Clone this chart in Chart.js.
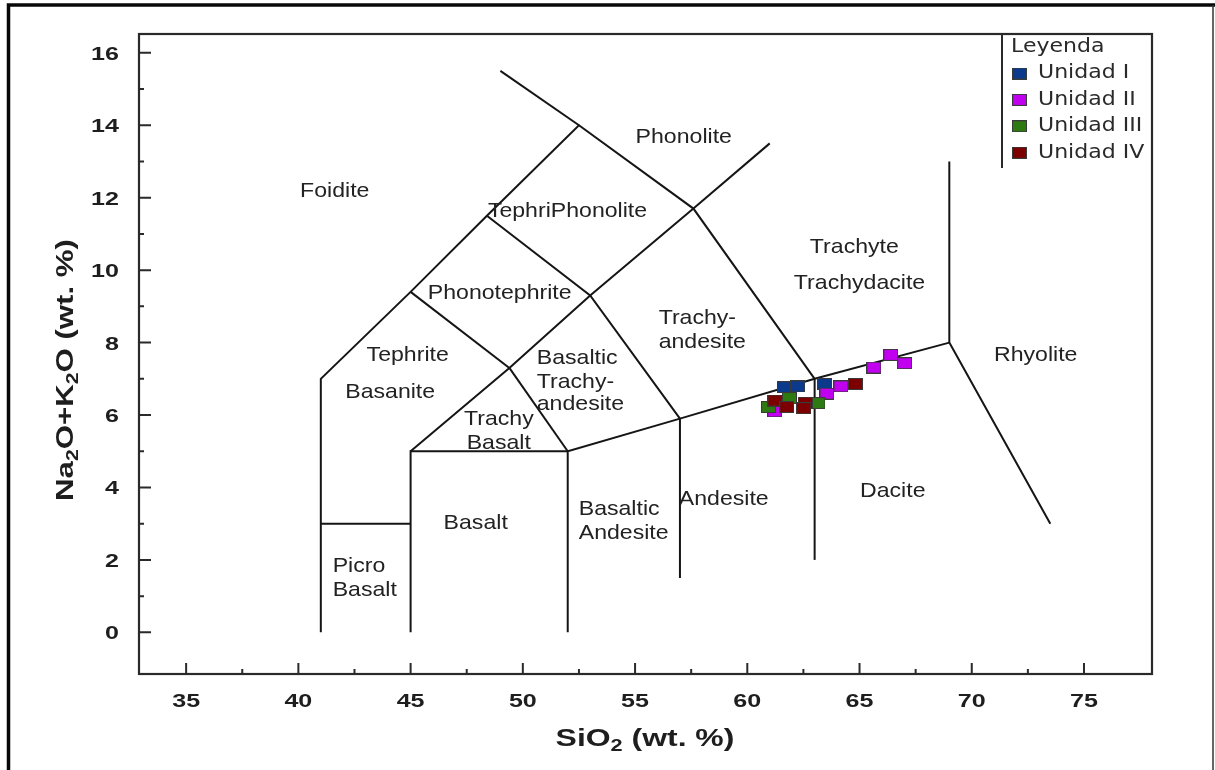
<!DOCTYPE html>
<html>
<head>
<meta charset="utf-8">
<script src="https://cdn.jsdelivr.net/npm/chart.js@4.4.1/dist/chart.umd.min.js"></script>
<style>
  html, body { margin: 0; padding: 0; background: #fff; }
  #wrap { width: 1215px; height: 770px; }
</style>
</head>
<body>
<div id="wrap"><canvas id="chart" width="1215" height="770"></canvas></div>
<script>
// axes
const xTicks = [35, 40, 45, 50, 55, 60, 65, 70, 75];
const xMinorTicks = [37.5, 42.5, 47.5, 52.5, 57.5, 62.5, 67.5, 72.5];
const yTicks = [0, 2, 4, 6, 8, 10, 12, 14, 16];
const yMinorTicks = [1, 3, 5, 7, 9, 11, 13, 15];

// TAS field boundaries, [SiO2, Na2O+K2O]
const fieldLines = [
  [[41, 0], [41, 7], [45, 9.4], [48.4, 11.5], [52.5, 14], [57.6, 11.7], [63, 7]],
  [[41, 3], [45, 3]],
  [[45, 0], [45, 5], [52, 5]],
  [[52, 0], [52, 5], [57, 5.9], [63, 7], [69, 8]],
  [[57, 1.5], [57, 5.9]],
  [[63, 2], [63, 7]],
  [[69, 13], [69, 8], [73.5, 3]],
  [[52.5, 14], [49, 15.5]],
  [[57.6, 11.7], [61, 13.5]],
  [[45, 5], [49.4, 7.3], [53, 9.3], [57.6, 11.7]],
  [[49.4, 7.3], [52, 5]],
  [[45, 9.4], [49.4, 7.3]],
  [[48.4, 11.5], [53, 9.3], [57, 5.9]],
];

// field names: text, SiO2, alkalis, alignment
const fieldNames = [
  ['Foidite', 41.62, 12.19, 'center'],
  ['Phonolite', 57.17, 13.68, 'center'],
  ['TephriPhonolite', 51.99, 11.64, 'center'],
  ['Phonotephrite', 48.97, 9.37, 'center'],
  ['Tephrite', 44.87, 7.66, 'center'],
  ['Basanite', 44.09, 6.64, 'center'],
  ['Trachy', 48.93, 5.88, 'center'],
  ['Basalt', 48.93, 5.22, 'center'],
  ['Basaltic', 50.62, 7.58, 'left'],
  ['Trachy-', 50.62, 6.91, 'left'],
  ['andesite', 50.62, 6.31, 'left'],
  ['Trachy-', 56.05, 8.68, 'left'],
  ['andesite', 56.05, 8.02, 'left'],
  ['Trachyte', 64.77, 10.64, 'center'],
  ['Trachydacite', 65.0, 9.65, 'center'],
  ['Rhyolite', 72.85, 7.66, 'center'],
  ['Dacite', 66.48, 3.9, 'center'],
  ['Andesite', 58.95, 3.68, 'center'],
  ['Basaltic', 52.49, 3.4, 'left'],
  ['Andesite', 52.49, 2.74, 'left'],
  ['Basalt', 47.9, 3.02, 'center'],
  ['Picro', 41.53, 1.83, 'left'],
  ['Basalt', 41.53, 1.17, 'left'],
];

// samples
const unidad1X = [61.65, 62.25, 63.44];
const unidad1Y = [6.77, 6.79, 6.86];
const unidad2X = [61.22, 63.55, 64.17, 65.64, 66.39, 67.01];
const unidad2Y = [6.10, 6.59, 6.79, 7.31, 7.66, 7.43];
const unidad3X = [61.88, 60.95, 63.15];
const unidad3Y = [6.47, 6.22, 6.33];
const unidad4X = [62.58, 61.23, 61.76, 62.52, 64.81];
const unidad4Y = [6.34, 6.40, 6.22, 6.19, 6.86];

const seriesNames = ['Unidad I', 'Unidad II', 'Unidad III', 'Unidad IV'];
const seriesColors = ['#0b3a8c', '#c000ee', '#2e7a12', '#7d0000'];

function marker(color) {
  const c = document.createElement('canvas');
  c.width = 15;
  c.height = 12;
  const g = c.getContext('2d');
  g.fillStyle = color;
  g.fillRect(0, 0, 15, 12);
  g.strokeStyle = '#3a3a3a';
  g.lineWidth = 1;
  g.strokeRect(0.5, 0.5, 14, 11);
  return c;
}
const markers = seriesColors.map(marker);

function zipXY(xs, ys) {
  return xs.map((x, i) => ({ x: x, y: ys[i] }));
}

const lineSets = fieldLines.map((pts) => ({
  data: pts.map((p) => ({ x: p[0], y: p[1] })),
  showLine: true,
  borderColor: '#151515',
  borderWidth: 2,
  pointRadius: 0,
  fill: false,
  order: 10,
}));

const sampleX = [unidad1X, unidad2X, unidad3X, unidad4X];
const sampleY = [unidad1Y, unidad2Y, unidad3Y, unidad4Y];
const sampleSets = seriesNames.map((name, i) => ({
  label: name,
  data: zipXY(sampleX[i], sampleY[i]),
  pointStyle: markers[i],
  pointRadius: 7,
  showLine: false,
  order: 4 - i,
}));

// text drawn wider than tall, as in the original figure
function wideText(ctx, text, x, y, sx, align) {
  ctx.save();
  ctx.translate(x, y);
  ctx.scale(sx, 1);
  ctx.textAlign = align || 'center';
  ctx.fillText(text, 0, 0);
  ctx.restore();
}

function subTitle(ctx, parts, size, sx) {
  // parts: [text, isSub]
  const widths = parts.map((p) => {
    ctx.font = 'bold ' + (p[1] ? size * 0.68 : size) + 'px "Liberation Sans", Arial, sans-serif';
    return ctx.measureText(p[0]).width * sx;
  });
  const total = widths.reduce((a, b) => a + b, 0);
  let cx = -total / 2;
  parts.forEach((p, i) => {
    ctx.font = 'bold ' + (p[1] ? size * 0.68 : size) + 'px "Liberation Sans", Arial, sans-serif';
    wideText(ctx, p[0], cx, p[1] ? 5 : 0, sx, 'left');
    cx += widths[i];
  });
}

const tasPlugin = {
  id: 'tas',
  beforeDraw(chart) {
    const ctx = chart.ctx;
    ctx.save();
    ctx.fillStyle = '#fff';
    ctx.fillRect(0, 0, chart.width, chart.height);
    // outer frame
    ctx.strokeStyle = '#080808';
    ctx.lineWidth = 3.5;
    ctx.beginPath();
    ctx.moveTo(8.5, 770);
    ctx.lineTo(8.5, 5);
    ctx.lineTo(1215, 5);
    ctx.stroke();
    ctx.strokeStyle = '#333';
    ctx.lineWidth = 1.5;
    ctx.beginPath();
    ctx.moveTo(1213, 5);
    ctx.lineTo(1213, 770);
    ctx.stroke();
    ctx.restore();
  },
  afterDraw(chart) {
    const ctx = chart.ctx;
    const a = chart.chartArea;
    const xs = chart.scales.x;
    const ys = chart.scales.y;
    ctx.save();

    // plot frame
    ctx.strokeStyle = '#2a2a2a';
    ctx.lineWidth = 2.2;
    ctx.strokeRect(a.left, a.top, a.right - a.left, a.bottom - a.top);

    // inward ticks
    ctx.lineWidth = 2;
    ctx.beginPath();
    xs.ticks.forEach((t) => {
      const px = xs.getPixelForValue(t.value);
      ctx.moveTo(px, a.bottom);
      ctx.lineTo(px, a.bottom - 11);
    });
    xMinorTicks.forEach((v) => {
      const px = xs.getPixelForValue(v);
      ctx.moveTo(px, a.bottom);
      ctx.lineTo(px, a.bottom - 5);
    });
    ys.ticks.forEach((t) => {
      const py = ys.getPixelForValue(t.value);
      ctx.moveTo(a.left, py);
      ctx.lineTo(a.left + 12, py);
    });
    yMinorTicks.forEach((v) => {
      const py = ys.getPixelForValue(v);
      ctx.moveTo(a.left, py);
      ctx.lineTo(a.left + 5, py);
    });
    ctx.stroke();

    // tick labels
    ctx.fillStyle = '#1e1e1e';
    ctx.font = 'bold 19px "Liberation Sans", Arial, sans-serif';
    ctx.textBaseline = 'alphabetic';
    xs.ticks.forEach((t) => {
      wideText(ctx, String(t.value), xs.getPixelForValue(t.value), 707, 1.32, 'center');
    });
    ys.ticks.forEach((t) => {
      wideText(ctx, String(t.value), a.left - 20, ys.getPixelForValue(t.value) + 7, 1.32, 'right');
    });

    // axis titles
    ctx.save();
    ctx.translate(645, 746);
    subTitle(ctx, [['SiO', false], ['2', true], [' (wt. %)', false]], 24, 1.33);
    ctx.restore();
    ctx.save();
    ctx.translate(73, 370);
    ctx.rotate(-Math.PI / 2);
    subTitle(ctx, [['Na', false], ['2', true], ['O+K', false], ['2', true], ['O (wt. %)', false]], 24, 1.3);
    ctx.restore();

    // field names
    ctx.font = '21px "Liberation Sans", Arial, sans-serif';
    ctx.fillStyle = '#222';
    ctx.textBaseline = 'middle';
    fieldNames.forEach((f) => {
      wideText(ctx, f[0], xs.getPixelForValue(f[1]), ys.getPixelForValue(f[2]), 1.1, f[3]);
    });

    // legend
    ctx.strokeStyle = '#2a2a2a';
    ctx.lineWidth = 2;
    ctx.beginPath();
    ctx.moveTo(1002, a.top);
    ctx.lineTo(1002, a.top + 134);
    ctx.stroke();
    ctx.font = '19px "DejaVu Sans", Verdana, sans-serif';
    ctx.fillStyle = '#2a2a2a';
    ctx.textBaseline = 'middle';
    wideText(ctx, 'Leyenda', 1011, 47, 1.16, 'left');
    seriesNames.forEach((name, i) => {
      const cy = 73.5 + i * 26.4;
      ctx.drawImage(markers[i], 1012, cy - 6);
      wideText(ctx, name, 1038, cy, 1.16, 'left');
    });
    ctx.restore();
  },
};

const ctx = document.getElementById('chart');
new Chart(ctx, {
  type: 'scatter',
  data: { datasets: lineSets.concat(sampleSets) },
  options: {
    responsive: false,
    animation: false,
    layout: { padding: { left: 9, right: 63, top: 34, bottom: 0 } },
    plugins: {
      legend: { display: false },
      tooltip: { enabled: false },
    },
    scales: {
      x: {
        type: 'linear',
        min: 32.9,
        max: 78.03,
        grid: { display: false, drawTicks: false },
        border: { display: false },
        ticks: { display: false },
        afterBuildTicks: (s) => { s.ticks = xTicks.map((v) => ({ value: v })); },
        afterFit: (s) => { s.height = 96; },
      },
      y: {
        type: 'linear',
        min: -1.15,
        max: 16.52,
        grid: { display: false, drawTicks: false },
        border: { display: false },
        ticks: { display: false },
        afterBuildTicks: (s) => { s.ticks = yTicks.map((v) => ({ value: v })); },
        afterFit: (s) => { s.width = 130; },
      },
    },
  },
  plugins: [tasPlugin],
});
</script>
</body>
</html>
